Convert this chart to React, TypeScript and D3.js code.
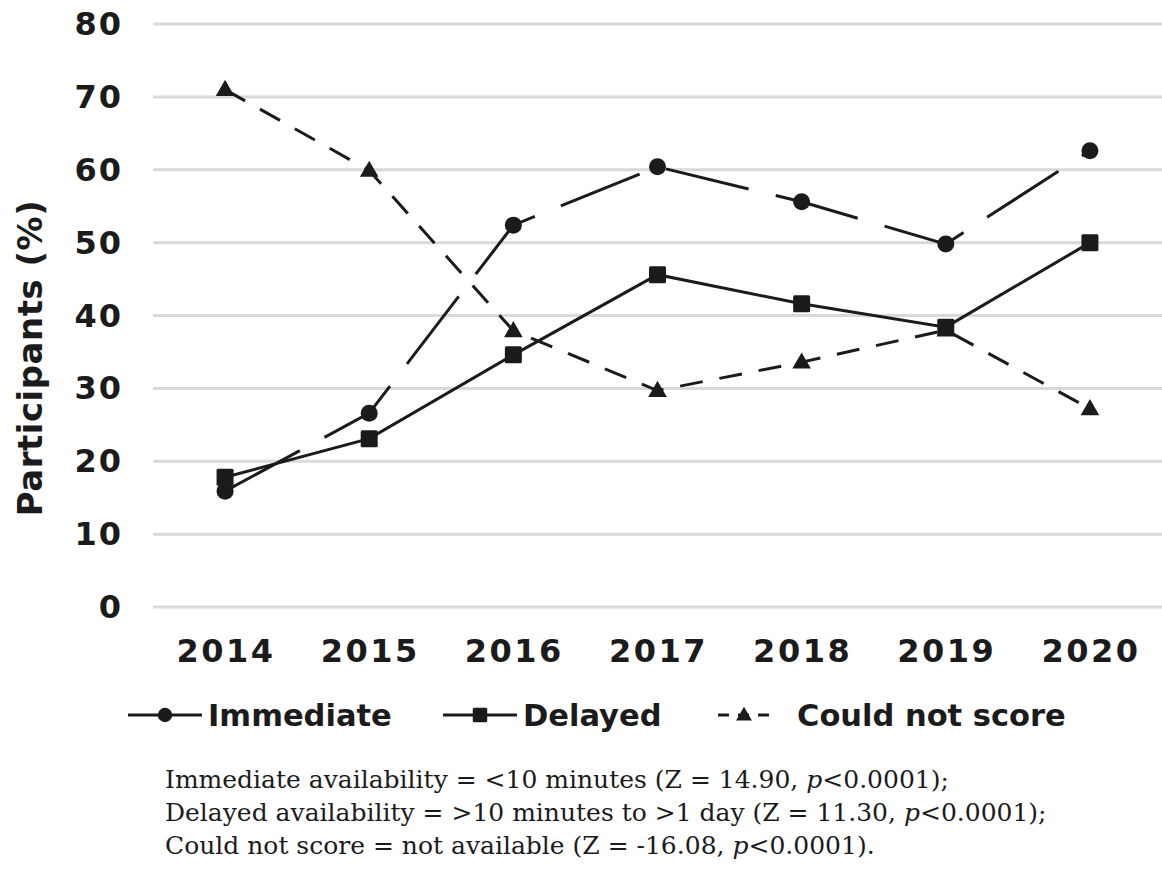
import React from "react";
import * as d3 from "d3";

const years = ["2014", "2015", "2016", "2017", "2018", "2019", "2020"];
const immediate = [15.9, 26.6, 52.4, 60.4, 55.6, 49.8, 62.6];
const delayed = [17.8, 23.1, 34.6, 45.6, 41.6, 38.4, 50.0];
const couldNotScore = [71.0, 59.9, 37.9, 29.7, 33.6, 38.0, 27.2];
const yTicks = [0, 10, 20, 30, 40, 50, 60, 70, 80];
const footnotes = [
  ["Immediate availability = <10 minutes (Z = 14.90, ", "p", "<0.0001);"],
  ["Delayed availability = >10 minutes to >1 day (Z = 11.30, ", "p", "<0.0001);"],
  ["Could not score = not available (Z = -16.08, ", "p", "<0.0001)."],
];

const W = 1162;
const H = 873;
const plotLeft = 153;
const plotRight = 1162;
const INK = "#1b1b1b";
const BOLD = "'DejaVu Sans', sans-serif";

export default function App() {
  const x = d3.scaleBand<string>().domain(years).range([plotLeft, plotRight]);
  const cx = (y: string) => (x(y) as number) + x.bandwidth() / 2;
  const y = d3.scaleLinear().domain([0, 80]).range([607, 24]);
  const line = d3
    .line<number>()
    .x((_, i) => cx(years[i]))
    .y((d) => y(d));

  const series = [
    { name: "Immediate", values: immediate, dash: "85,28", marker: "circle" },
    { name: "Delayed", values: delayed, dash: "none", marker: "square" },
    { name: "Could not score", values: couldNotScore, dash: "23,17", marker: "triangle" },
  ];

  const marker = (kind: string, px: number, py: number, key: any, s = 1) => {
    if (kind === "circle") return <circle key={key} cx={px} cy={py} r={8.5 * s} fill={INK} />;
    if (kind === "square")
      return <rect key={key} x={px - 8.5 * s} y={py - 8.5 * s} width={17 * s} height={17 * s} rx={1.5} fill={INK} />;
    const sym = d3.symbol().type(d3.symbolTriangle).size(150 * s * s)();
    return <path key={key} d={sym as string} transform={`translate(${px},${py + 1})`} fill={INK} />;
  };

  const legend = [
    { name: "Immediate", marker: "circle", dash: "none", x1: 128, x2: 202, tx: 208 },
    { name: "Delayed", marker: "square", dash: "none", x1: 443, x2: 517, tx: 523 },
    { name: "Could not score", marker: "triangle", dash: "11,9", x1: 718, x2: 770, tx: 797 },
  ];
  const ly = 715;

  return (
    <svg width={W} height={H} style={{ position: "absolute", left: 0, top: 0, background: "#fff" }}>
      <rect width={W} height={H} fill="#fff" />
      {yTicks.map((t) => (
        <g key={t}>
          <line x1={plotLeft} x2={plotRight} y1={y(t)} y2={y(t)} stroke="#d9d9d9" strokeWidth={3} />
          <text
            x={123}
            y={y(t)}
            textAnchor="end"
            dominantBaseline="central"
            fontFamily={BOLD}
            fontWeight="bold"
            fontSize={32}
            letterSpacing={2}
            fill={INK}
          >
            {t}
          </text>
        </g>
      ))}
      {years.map((yr) => (
        <text
          key={yr}
          x={cx(yr) + 1}
          y={651}
          textAnchor="middle"
          dominantBaseline="central"
          fontFamily={BOLD}
          fontWeight="bold"
          fontSize={32}
          letterSpacing={2.5}
          fill={INK}
        >
          {yr}
        </text>
      ))}
      <text
        transform={`translate(42,358) rotate(-90)`}
        textAnchor="middle"
        fontFamily={BOLD}
        fontWeight="bold"
        fontSize={34}
        letterSpacing={0.5}
        fill={INK}
      >
        Participants (%)
      </text>
      {series.map((s) => (
        <g key={s.name}>
          <path
            d={line(s.values) as string}
            fill="none"
            stroke={INK}
            strokeWidth={3}
            strokeDasharray={s.dash}
          />
          {s.values.map((v, i) => marker(s.marker, cx(years[i]), y(v), i))}
        </g>
      ))}
      {legend.map((l) => (
        <g key={l.name}>
          <line x1={l.x1} x2={l.x2} y1={ly} y2={ly} stroke={INK} strokeWidth={3} strokeDasharray={l.dash} />
          {marker(l.marker, (l.x1 + l.x2) / 2, ly, "m", 0.85)}
          <text
            x={l.tx}
            y={ly}
            dominantBaseline="central"
            fontFamily={BOLD}
            fontWeight="bold"
            fontSize={30.5}
            fill={INK}
          >
            {l.name}
          </text>
        </g>
      ))}
      {footnotes.map((f, i) => (
        <text
          key={i}
          x={165}
          y={788 + i * 33}
          fontFamily="'DejaVu Serif', 'Liberation Serif', serif"
          fontSize={25}
          fill={INK}
        >
          {f[0]}
          <tspan fontStyle="italic">{f[1]}</tspan>
          {f[2]}
        </text>
      ))}
    </svg>
  );
}
